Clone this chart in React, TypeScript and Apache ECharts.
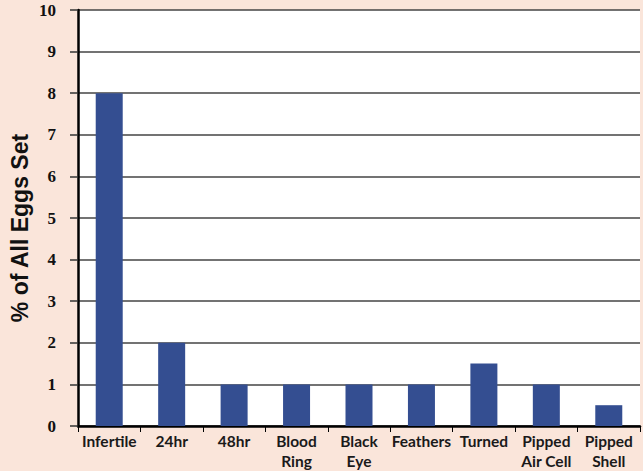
import React, { useEffect, useRef } from "react";
import * as echarts from "echarts";

const categories = ["Infertile", "24hr", "48hr", "Blood\nRing", "Black\nEye", "Feathers", "Turned", "Pipped\nAir Cell", "Pipped\nShell"];
const percentValues = [8, 2, 1, 1, 1, 1, 1.5, 1, 0.5];
const yAxisTitle = "% of All Eggs Set";

export default function App() {
  const ref = useRef<HTMLDivElement>(null);
  useEffect(() => {
    if (!ref.current) return;
    const chart = echarts.init(ref.current, null, { renderer: "svg" });
    chart.setOption({
      animation: false,
      backgroundColor: "#fae5da",
      grid: {
        left: 78,
        right: 3,
        top: 10,
        bottom: 43,
        show: true,
        backgroundColor: "#ffffff",
        borderWidth: 0,
      },
      graphic: [
        {
          type: "text",
          x: 20,
          y: 228,
          rotation: Math.PI / 2,
          style: {
            text: yAxisTitle,
            fontFamily: "Liberation Sans",
            fontWeight: "bold",
            fontSize: 23,
            fill: "#111",
            align: "center",
            verticalAlign: "middle",
          },
        },
      ],
      xAxis: {
        type: "category",
        data: categories,
        boundaryGap: true,
        axisLine: { show: true, lineStyle: { color: "#000", width: 2.5 } },
        axisTick: { show: true, length: 6, lineStyle: { color: "#000", width: 1 } },
        axisLabel: {
          interval: 0,
          color: "#1a1a1a",
          fontFamily: "Lato",
          fontWeight: "bold",
          fontSize: 15.5,
          lineHeight: 20,
          margin: 5,
        },
      },
      yAxis: {
        type: "value",
        min: 0,
        max: 10,
        interval: 1,
        axisLine: { show: true, lineStyle: { color: "#000", width: 2.5 } },
        axisTick: { show: true, length: 8, lineStyle: { color: "#333", width: 1.5 } },
        axisLabel: {
          color: "#111",
          fontFamily: "Liberation Serif",
          fontWeight: "bold",
          fontSize: 17,
          margin: 22,
        },
        splitLine: { show: true, lineStyle: { color: "#444", width: 1.5 } },
      },
      series: [
        {
          type: "bar",
          data: percentValues,
          barWidth: 27,
          itemStyle: { color: "#344e91" },
        },
      ],
    });
    return () => chart.dispose();
  }, []);
  return (
    <div
      ref={ref}
      style={{ position: "fixed", left: 0, top: 0, width: 643, height: 471 }}
    />
  );
}
